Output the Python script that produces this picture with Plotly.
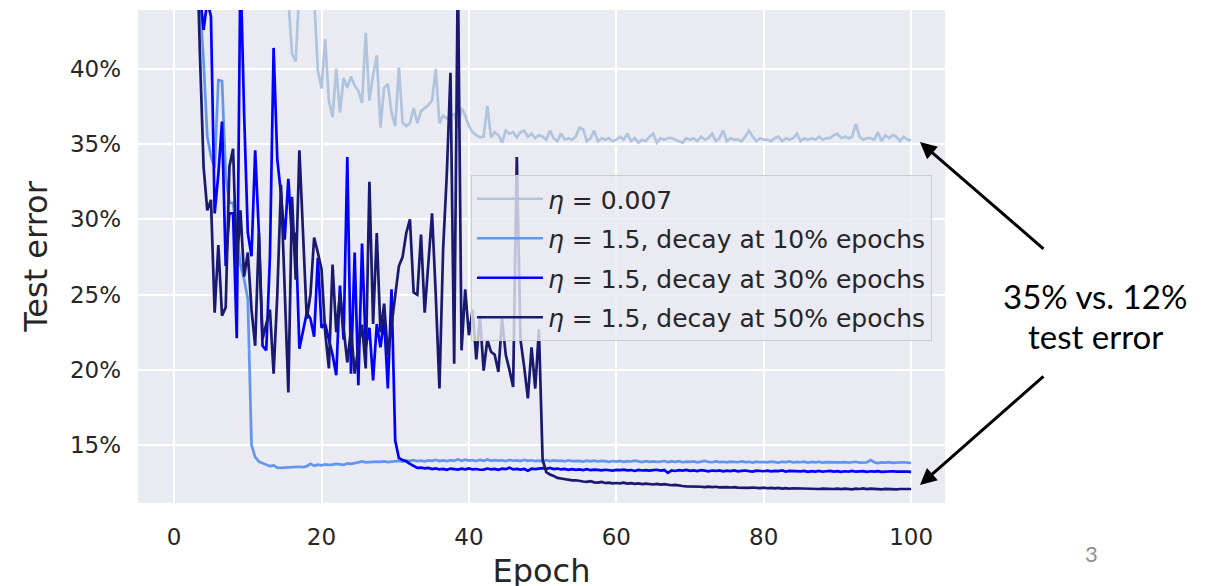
import plotly.graph_objects as go

# epochs: two evaluations per epoch
epochs = [i / 2 for i in range(201)]

# test error (%) for each run
err_lr_small = [
    90, 84, 78, 73, 69, 65, 62, 59, 57, 55,
    53, 52, 51, 50, 49, 48.5, 48, 47.5, 47, 47.5,
    46.5, 47, 46, 46.5, 45.5, 46, 45.5, 46, 45, 45.5,
    45, 44.6, 41.0, 40.5, 45.5, 46, 45.5, 46, 44.8, 39.9,
    38.7, 42.0, 37.9, 36.8, 40.0, 37.1, 39.4, 38.75, 39.5, 38.9,
    38.55, 37.75, 42.4, 37.9, 39.6, 40.9, 36.1, 38.75, 39.0, 37.1,
    36.2, 40.1, 36.45, 36.2, 36.4, 37.4, 36.4, 37.2, 37.4, 37.6,
    37.9, 40.0, 36.4, 36.9, 36.7, 36.9, 37.0, 36.1, 37.4, 36.9,
    36.2, 35.8, 35.6, 35.45, 35.5, 37.55, 35.45, 35.8, 35.6, 35.1,
    35.9, 35.7, 35.8, 35.45, 35.8, 35.9, 35.5, 35.7, 35.4, 35.6,
    35.5, 35.3, 35.9, 35.4, 35.2, 35.7, 35.3, 35.4, 35.3, 35.5,
    36.1, 36.0, 35.2, 35.4, 35.9, 35.2, 35.4, 35.3, 35.4, 35.2,
    35.3, 35.5, 35.3, 35.7, 35.2, 35.4, 35.1, 35.3, 35.2, 35.5,
    35.7, 35.1, 35.4, 35.3, 35.4, 35.4, 35.3, 35.2, 35.1, 35.4,
    35.3, 35.4, 35.2, 35.5, 35.3, 35.4, 35.7, 35.2, 35.4, 35.9,
    35.2, 35.4, 35.3, 35.3, 35.2, 35.5, 35.9, 35.5, 35.2, 35.4,
    35.3, 35.3, 35.2, 35.4, 35.5, 35.2, 35.4, 35.3, 35.4, 35.7,
    35.2, 35.4, 35.3, 35.4, 35.3, 35.5, 35.3, 35.4, 35.4, 35.6,
    35.7, 35.4, 35.5, 35.4, 35.5, 36.35, 35.5, 35.3, 35.4, 35.4,
    35.3, 35.8, 35.2, 35.6, 35.4, 35.6, 35.5, 35.2, 35.5, 35.3,
    35.25,
]

err_decay10 = [
    92, 80, 70, 62, 56, 51, 47, 44.5, 40.5, 35.5,
    34.2, 33.4, 39.25, 39.2, 33.0, 31.1, 31.1, 29.0, 27.0, 26.0,
    24.7, 15.0, 14.2, 13.9, 13.8, 13.7, 13.6, 13.65, 13.5, 13.48,
    13.5, 13.47, 13.5, 13.52, 13.56, 13.53, 13.6, 13.75, 13.62, 13.7,
    13.65, 13.72, 13.68, 13.7, 13.75, 13.72, 13.68, 13.78, 13.75, 13.8,
    13.85, 13.92, 13.85, 13.88, 13.86, 13.9, 13.88, 13.92, 13.87, 13.9,
    13.92, 13.95, 13.9, 13.97, 13.95, 14.0, 13.93, 13.97, 13.92, 13.98,
    13.95, 14.02, 13.94, 13.98, 13.93, 14.0, 13.95, 14.05, 13.96, 14.03,
    13.97, 14.0, 13.94, 14.02, 13.96, 14.04, 13.95, 14.0, 13.97, 13.99,
    13.93, 14.01, 13.96, 13.98, 13.94, 14.02, 13.95, 13.99, 13.93, 13.97,
    13.92, 14.0, 13.93, 13.98, 13.95, 13.97, 13.92, 13.99, 13.94, 13.96,
    13.95, 13.9, 13.97, 13.92, 13.96, 13.91, 13.95, 13.93, 13.89, 13.94,
    13.9, 13.95, 13.88, 13.93, 13.91, 13.96, 13.9, 13.87, 13.93, 13.89,
    13.92, 13.88, 13.9, 13.94, 13.87, 13.91, 13.89, 13.93, 13.86, 13.9,
    13.88, 13.92, 13.85, 13.9, 13.95, 13.88, 13.86, 13.91, 13.87, 13.89,
    13.85, 13.9, 13.88, 13.86, 13.92, 13.87, 13.89, 13.84, 13.9, 13.86,
    13.88, 13.85, 13.9, 13.86, 13.84, 13.89, 13.87, 13.91, 13.85, 13.88,
    13.86, 13.9, 13.84, 13.88, 13.85, 13.89, 13.83, 13.87, 13.86, 13.84,
    13.88, 13.85, 13.87, 13.83, 13.86, 13.89, 13.84, 13.87, 13.85, 14.0,
    13.86, 13.8, 13.85, 13.83, 13.86, 13.82, 13.85, 13.84, 13.86, 13.83,
    13.82,
]

err_decay30 = [
    95, 86, 77, 69, 62, 56, 51, 45.0, 42.6, 44.5,
    43.5, 30.4, 33.0, 36.5, 26.9, 30.4, 30.4, 22.1, 47.0, 37.0,
    29.1, 27.55, 34.6, 29.1, 21.6, 21.3, 27.5, 41.4, 34.0, 31.7,
    28.65, 32.7, 28.65, 29.1, 21.4, 22.6, 23.8, 23.4, 22.2, 27.45,
    22.8, 23.05, 22.0, 21.0, 19.64, 25.6, 22.0, 34.15, 19.75, 27.8,
    18.98, 28.4, 21.5, 22.8, 19.3, 23.05, 21.5, 23.4, 18.76, 25.36,
    15.3, 14.14, 14.0, 13.92, 13.75, 13.6, 13.48, 13.5, 13.45, 13.48,
    13.4, 13.45, 13.38, 13.42, 13.36, 13.44, 13.4, 13.37, 13.43, 13.39,
    13.45, 13.38, 13.41, 13.36, 13.37, 13.44, 13.39, 13.42, 13.35, 13.43,
    13.4, 13.5, 13.38, 13.42, 13.37, 13.41, 13.3, 13.43, 13.4, 13.45,
    13.47, 13.42, 13.48, 13.4, 13.44, 13.38, 13.42, 13.36, 13.4, 13.35,
    13.38, 13.34, 13.4, 13.33, 13.37, 13.35, 13.32, 13.36, 13.34, 13.3,
    13.35, 13.33, 13.37, 13.32, 13.34, 13.28, 13.35, 13.31, 13.34, 13.3,
    13.33, 13.36, 13.3, 13.34, 13.15, 13.32, 13.28, 13.33, 13.3, 13.35,
    13.29, 13.32, 13.27, 13.33, 13.3, 13.26, 13.31, 13.28, 13.32, 13.25,
    13.3, 13.27, 13.32, 13.26, 13.29, 13.31, 13.27, 13.24, 13.3, 13.28,
    13.26, 13.3, 13.25, 13.29, 13.27, 13.31, 13.24, 13.28, 13.26, 13.29,
    13.25, 13.28, 13.22, 13.27, 13.24, 13.28, 13.23, 13.26, 13.29, 13.24,
    13.27, 13.22, 13.26, 13.24, 13.28, 13.23, 13.25, 13.27, 13.22, 13.26,
    13.24, 13.27, 13.22, 13.25, 13.23, 13.26, 13.24, 13.22, 13.25, 13.23,
    13.22,
]

err_decay50 = [
    96, 88, 80, 72, 64, 57, 50, 41.0, 33.5, 30.6,
    31.3, 23.8, 28.3, 23.6, 24.15, 33.5, 34.7, 26.9, 30.6, 26.2,
    27.8, 24.0, 21.6, 29.1, 22.06, 23.05, 24.0, 19.75, 25.0, 32.3,
    25.0, 18.5, 31.5, 26.0, 34.6, 29.0, 23.4, 25.0, 28.8, 27.8,
    26.7, 22.5, 20.1, 27.0, 22.5, 25.0, 22.8, 20.5, 22.7, 19.75,
    21.5, 23.0, 20.1, 32.5, 23.05, 29.1, 22.5, 24.4, 21.0, 23.0,
    25.15, 26.9, 27.5, 29.1, 30.0, 25.15, 25.0, 29.0, 23.8, 27.0,
    30.4, 25.0, 18.76, 28.0, 33.0, 39.75, 20.4, 47.0, 21.3, 25.35,
    22.3, 24.0, 20.7, 23.5, 19.95, 22.0, 21.2, 21.0, 19.86, 23.4,
    21.0, 20.0, 18.87, 34.15, 22.0, 20.2, 18.1, 21.5, 18.76, 22.7,
    14.03, 13.2, 13.04, 12.95, 12.82, 12.78, 12.72, 12.7, 12.65, 12.66,
    12.6, 12.58, 12.56, 12.6, 12.52, 12.5, 12.55, 12.48, 12.5, 12.46,
    12.48, 12.45, 12.5, 12.44, 12.47, 12.42, 12.45, 12.4, 12.44, 12.41,
    12.38, 12.42, 12.37, 12.4, 12.35, 12.33, 12.36, 12.3, 12.28, 12.25,
    12.25, 12.22, 12.26, 12.23, 12.2, 12.24, 12.21, 12.23, 12.19, 12.22,
    12.2, 12.18, 12.21, 12.17, 12.16, 12.19, 12.15, 12.18, 12.16, 12.14,
    12.17, 12.13, 12.16, 12.12, 12.15, 12.11, 12.14, 12.1, 12.13, 12.12,
    12.1, 12.14, 12.09, 12.12, 12.1, 12.08, 12.11, 12.09, 12.12, 12.08,
    12.1, 12.07, 12.11, 12.09, 12.06, 12.1, 12.08, 12.12, 12.07, 12.1,
    12.08, 12.11, 12.06, 12.09, 12.07, 12.1, 12.06, 12.08, 12.07, 12.09,
    12.08,
]

series_names = [
    "<i>η</i> = 0.007",
    "<i>η</i> = 1.5, decay at 10% epochs",
    "<i>η</i> = 1.5, decay at 30% epochs",
    "<i>η</i> = 1.5, decay at 50% epochs",
]
series_values = [err_lr_small, err_decay10, err_decay30, err_decay50]
series_colors = ["#B0C4DE", "#6495ED", "#0000FF", "#191970"]

x_ticks = [0, 20, 40, 60, 80, 100]
y_ticks = [15, 20, 25, 30, 35, 40]
y_ticktext = ["15%", "20%", "25%", "30%", "35%", "40%"]

FONT = "DejaVu Sans"
TXT = "#262626"

fig = go.Figure()
for i, (name, vals, col) in enumerate(zip(series_names, series_values, series_colors)):
    fig.add_trace(go.Scatter(
        x=epochs, y=vals, mode="lines", name=name,
        legendgroup=f"g{i}",
        line=dict(color=col, width=2.7),
    ))

# the page body adds an 8px offset, so margins are 8px smaller on left/top
fig.update_layout(
    width=1209, height=586,
    margin=dict(l=130, r=272, t=2, b=91),
    paper_bgcolor="white",
    plot_bgcolor="#EAEAF2",
    font=dict(family=FONT, color=TXT, size=24),
    showlegend=True,
    legend=dict(
        x=0.4126, y=0.6653, xanchor="left", yanchor="top",
        bgcolor="rgba(234,234,242,0.8)",
        bordercolor="#CCCCCC", borderwidth=1,
        font=dict(family=FONT, size=25, color=TXT),
        itemwidth=66,
        traceorder="grouped",
        tracegroupgap=4,
    ),
    hovermode=False,
)

fig.update_xaxes(
    range=[-4.9, 104.6], automargin=False,
    tickvals=x_ticks,
    showgrid=True, gridcolor="white", gridwidth=1.6,
    zeroline=False, showline=False,
    ticks="", ticklabelstandoff=18,
    tickfont=dict(family=FONT, size=23, color=TXT),
    title=dict(text="Epoch", font=dict(family=FONT, size=32, color=TXT), standoff=10),
)
fig.update_yaxes(
    range=[11.15, 43.92], automargin=False,
    tickvals=y_ticks, ticktext=y_ticktext,
    showgrid=True, gridcolor="white", gridwidth=1.6,
    zeroline=False, showline=False,
    ticks="", ticklabelstandoff=16,
    tickfont=dict(family=FONT, size=23, color=TXT),
    title=dict(text="Test error", font=dict(family=FONT, size=32, color=TXT), standoff=12),
)

# side note and arrows pointing at the two final error levels
fig.add_annotation(
    xref="paper", yref="paper", x=1.186, y=0.420,
    xanchor="center", yanchor="middle",
    text="35% vs. 12%", showarrow=False,
    font=dict(family="Lato", size=33, color="black"),
)
fig.add_annotation(
    xref="paper", yref="paper", x=1.186, y=0.339,
    xanchor="center", yanchor="middle",
    text="test error", showarrow=False,
    font=dict(family="Lato", size=33, color="black"),
)
fig.add_annotation(
    xref="paper", yref="paper", x=0.969, y=0.732, text="",
    showarrow=True, arrowhead=2, arrowsize=1.1, arrowwidth=3,
    arrowcolor="black", ax=125, ay=108,
)
fig.add_annotation(
    xref="paper", yref="paper", x=0.969, y=0.0365, text="",
    showarrow=True, arrowhead=2, arrowsize=1.1, arrowwidth=3,
    arrowcolor="black", ax=125, ay=-110,
)
fig.add_annotation(
    xref="paper", yref="paper", x=1.182, y=-0.1034,
    xanchor="center", yanchor="middle",
    text="3", showarrow=False,
    font=dict(family="Lato", size=22, color="#8C8C8C"),
)

fig.write_html("out.html")
